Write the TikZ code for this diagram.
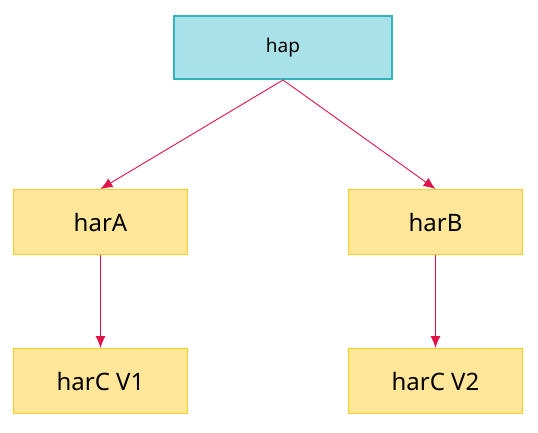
\documentclass[tikz,border=0pt]{standalone}
\usepackage{fontspec}
\setmainfont{Noto Sans}
\usepackage{xcolor}
\usetikzlibrary{arrows.meta}

\definecolor{hapfill}{HTML}{A8E2E8}
\definecolor{hapline}{HTML}{2EB5C0}
\definecolor{harfill}{HTML}{FFE699}
\definecolor{harline}{HTML}{F5CE2A}
\definecolor{linkred}{HTML}{E0124B}

\begin{document}
\begin{tikzpicture}[x=1pt,y=-1pt,
  topbox/.style={draw=hapline,fill=hapfill,line width=2pt,minimum width=218pt,minimum height=63pt,font=\fontsize{19}{22}\selectfont},
  harbox/.style={draw=harline,fill=harfill,line width=1pt,minimum width=174pt,minimum height=65pt,font=\fontsize{24}{28}\selectfont},
  link/.style={draw=linkred,line width=0.9pt,-{Latex[length=12pt,width=10pt]}}]
  \useasboundingbox (0,0) rectangle (538,433);
  \node[topbox] (hap) at (283,47.5) {hap};
  \node[harbox] (harA) at (100.5,222) {harA};
  \node[harbox] (harB) at (435.5,222) {harB};
  \node[harbox] (harC1) at (100.5,381) {harC V1};
  \node[harbox] (harC2) at (435.5,381) {harC V2};
  % links
  \draw[link] (hap.south) -- (harA.north);
  \draw[link] (hap.south) -- (harB.north);
  \draw[link] (harA.south) -- (harC1.north);
  \draw[link] (harB.south) -- (harC2.north);
\end{tikzpicture}
\end{document}
